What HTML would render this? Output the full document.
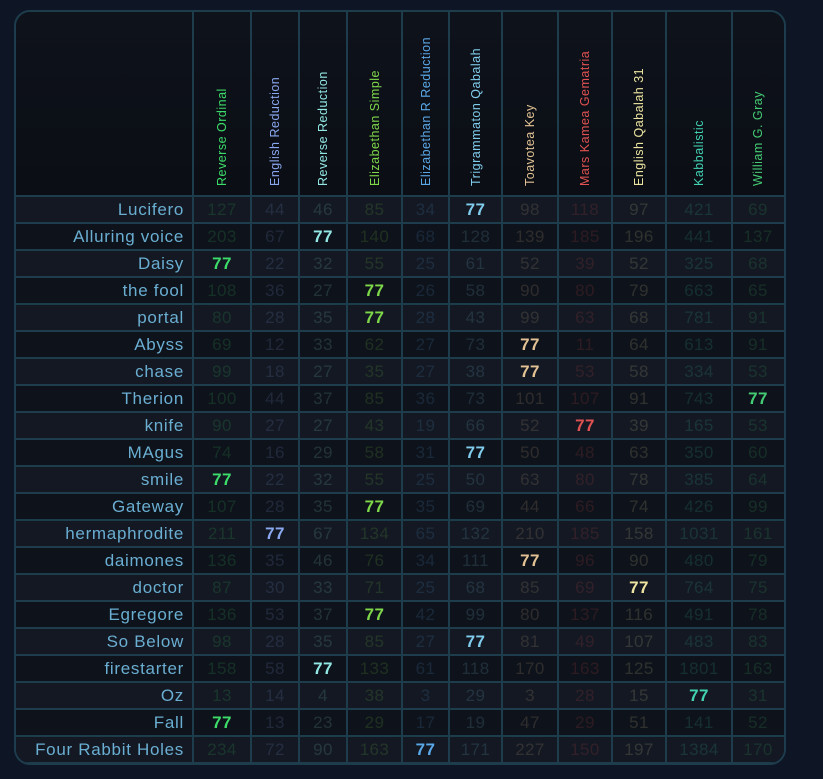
<!DOCTYPE html>
<html><head><meta charset="utf-8">
<style>
html,body{margin:0;padding:0;background:#0e1626;width:823px;height:779px;overflow:hidden;font-family:"Liberation Sans",sans-serif}
#panel{position:absolute;left:14px;top:10px;width:768px;height:751px;border:2px solid #1d3d4d;border-radius:16px;overflow:hidden;background:#0c1017}
.hdr{position:absolute;top:0;height:184px;background:linear-gradient(#0e121b,#0b0e14);}
.hl{position:absolute;top:174px;left:50%;transform-origin:0 0;transform:rotate(-90deg);white-space:nowrap;font-size:12.5px;line-height:14px;letter-spacing:0.5px}
.row{position:absolute;left:0;width:768px;height:27px}
.cell{position:absolute;top:0;height:27px;line-height:27px;text-align:center;font-size:17px;letter-spacing:0.4px}
.name{text-align:right;color:#6aaed2;padding-right:9px;box-sizing:border-box;letter-spacing:0.7px}
.vl{position:absolute;top:0;width:2px;height:751px;background:#1d3d4d}
.hz{position:absolute;left:0;width:768px;height:2px;background:#1d3d4d}
</style></head><body>
<div id="panel"></div>
<script>
const columns=["Reverse Ordinal","English Reduction","Reverse Reduction","Elizabethan Simple","Elizabethan R Reduction","Trigrammaton Qabalah","Toavotea Key","Mars Kamea Gematria","English Qabalah 31","Kabbalistic","William G. Gray"];
const colColors=["#3ddc6a","#8aa8f0","#92e8e4","#7ed84a","#5aa8e8","#80ccec","#e2c294","#e05252","#ece4a0","#42d2b2","#44cc74"];
const rowNames=["Lucifero","Alluring voice","Daisy","the fool","portal","Abyss","chase","Therion","knife","MAgus","smile","Gateway","hermaphrodite","daimones","doctor","Egregore","So Below","firestarter","Oz","Fall","Four Rabbit Holes"];
const values=[
[127,44,46,85,34,77,98,118,97,421,69],
[203,67,77,140,68,128,139,185,196,441,137],
[77,22,32,55,25,61,52,39,52,325,68],
[108,36,27,77,26,58,90,80,79,663,65],
[80,28,35,77,28,43,99,63,68,781,91],
[69,12,33,62,27,73,77,11,64,613,91],
[99,18,27,35,27,38,77,53,58,334,53],
[100,44,37,85,36,73,101,107,91,743,77],
[90,27,27,43,19,66,52,77,39,165,53],
[74,16,29,58,31,77,50,48,63,350,60],
[77,22,32,55,25,50,63,80,78,385,64],
[107,28,35,77,35,69,44,66,74,426,99],
[211,77,67,134,65,132,210,185,158,1031,161],
[136,35,46,76,34,111,77,96,90,480,79],
[87,30,33,71,25,68,85,69,77,764,75],
[136,53,37,77,42,99,80,137,116,491,78],
[98,28,35,85,27,77,81,49,107,483,83],
[158,58,77,133,61,118,170,163,125,1801,163],
[13,14,4,38,3,29,3,28,15,77,31],
[77,13,23,29,17,19,47,29,51,141,52],
[234,72,90,163,77,171,227,150,197,1384,170]];
const target=77;
const P=document.getElementById('panel');
const edges=[0,177,235,283,331,386,433,486,542,596,650,716,768];
const headH=184, rowH=27;
function mk(cls){const d=document.createElement('div');d.className=cls;return d;}
const hc=mk('hdr');hc.style.left='0px';hc.style.width='768px';


P.appendChild(hc);
columns.forEach((c,i)=>{
  const h=mk('hdr');h.style.left=edges[i+1]+'px';h.style.width=(edges[i+2]-edges[i+1])+'px';h.style.background='none';
  
  
  const t=mk('hl');t.textContent=c;t.style.color=colColors[i];t.style.marginLeft='-7px';
  
  
  h.appendChild(t);P.appendChild(h);
});
rowNames.forEach((n,r)=>{
  const row=mk('row');row.style.top=(headH+r*rowH)+'px';
  row.style.background=r%2===0?'#131822':'#0e121a';
  
  
  const nc=mk('cell name');nc.style.left='0px';nc.style.width=edges[1]+'px';nc.textContent=n;
  
  
  row.appendChild(nc);
  values[r].forEach((v,i)=>{
    const c=mk('cell');c.style.left=edges[i+1]+'px';c.style.width=(edges[i+2]-edges[i+1])+'px';
    c.textContent=v;c.style.color=colColors[i];
    if(v===target){c.style.fontWeight='bold';}else{c.style.opacity='0.15';}
    
    
    row.appendChild(c);
  });
  P.appendChild(row);
});
for(let r=0;r<=rowNames.length;r++){
  const l=mk('hz');l.style.top=(headH+r*rowH-1)+'px';
  
  
  P.appendChild(l);
}
edges.slice(1,-1).forEach(x=>{
  const l=mk('vl');l.style.left=(x-1)+'px';
  
  
  P.appendChild(l);
});
</script>
</body></html>
